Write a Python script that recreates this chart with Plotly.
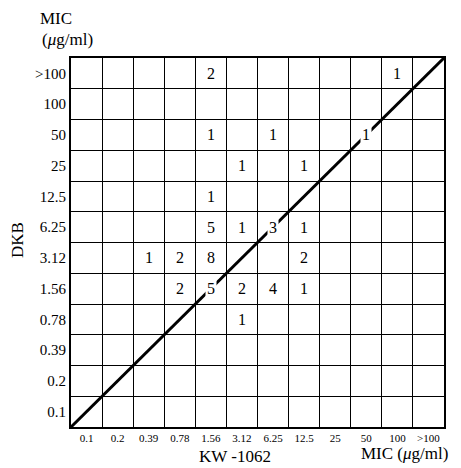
import plotly.graph_objects as go

# MIC categories (same for both axes)
kw_labels = ["0.1", "0.2", "0.39", "0.78", "1.56", "3.12", "6.25", "12.5", "25", "50", "100", ">100"]
dkb_labels = ["0.1", "0.2", "0.39", "0.78", "1.56", "3.12", "6.25", "12.5", "25", "50", "100", ">100"]

# number of strains in each cell: KW-1062 MIC (x), DKB MIC (y), count
cell_kw = ["1.56", "100",
           "1.56", "6.25", "50",
           "3.12", "12.5",
           "1.56",
           "1.56", "3.12", "6.25", "12.5",
           "0.39", "0.78", "1.56", "12.5",
           "0.78", "1.56", "3.12", "6.25", "12.5",
           "3.12"]
cell_dkb = [">100", ">100",
            "50", "50", "50",
            "25", "25",
            "12.5",
            "6.25", "6.25", "6.25", "6.25",
            "3.12", "3.12", "3.12", "3.12",
            "1.56", "1.56", "1.56", "1.56", "1.56",
            "0.78"]
cell_count = [2, 1,
              1, 1, 1,
              1, 1,
              1,
              5, 1, 3, 1,
              1, 2, 8, 2,
              2, 5, 2, 4, 1,
              1]

n = len(kw_labels)
serif = "Liberation Serif, Times New Roman, serif"

fig = go.Figure()
# line of equal MIC
fig.add_trace(go.Scatter(x=[0, n], y=[0, len(dkb_labels)], mode="lines",
                         line=dict(color="black", width=3), hoverinfo="skip",
                         showlegend=False))

annotations = []
for kx, dy, c in zip(cell_kw, cell_dkb, cell_count):
    xi = kw_labels.index(kx) + 0.5
    yi = dkb_labels.index(dy) + 0.5
    annotations.append(dict(x=xi, y=yi, xref="x", yref="y", text=str(c),
                            showarrow=False, bgcolor="white", borderpad=1,
                            font=dict(family=serif, size=16, color="black")))

labels = [
    dict(x=56, y=19, text="MIC"),
    dict(x=67, y=40, text="(<i>μ</i>g/ml)"),
    dict(x=17, y=240, text="DKB", textangle=-90),
    dict(x=235, y=456, text="KW -1062"),
    dict(x=404, y=453, text="MIC (<i>μ</i>g/ml)"),
]
# convert pixel positions for the label annotations into paper coordinates
W, H = 461, 468
L, R, T, B = 71, 17, 58, 41
pw, ph = W - L - R, H - T - B
for a in labels:
    a["x"] = (a["x"] - L) / pw
    a["y"] = 1 - (a["y"] - T) / ph
    a.update(xref="paper", yref="paper", showarrow=False,
             xanchor="center", yanchor="middle",
             font=dict(family=serif, size=17, color="black"))
annotations += labels

axis_common = dict(range=[0, n], showgrid=False, zeroline=False,
                   showline=True, linecolor="black", linewidth=2, mirror=True,
                   ticks="", fixedrange=True,
                   minor=dict(tickvals=list(range(n + 1)), showgrid=True,
                              gridcolor="black", gridwidth=1.4, ticks=""))

fig.update_layout(
    width=W, height=H,
    margin=dict(l=L, r=R, t=T, b=B, pad=0),
    paper_bgcolor="white", plot_bgcolor="white",
    showlegend=False,
    xaxis=dict(**axis_common, tickvals=[i + 0.5 for i in range(n)], ticktext=kw_labels,
               tickfont=dict(family=serif, size=11, color="black")),
    yaxis=dict(**axis_common, tickvals=[i + 0.5 for i in range(len(dkb_labels))],
               ticktext=dkb_labels,
               tickfont=dict(family=serif, size=15, color="black")),
    annotations=annotations,
)

fig.write_html("out.html", config={"displayModeBar": False},
               post_script="document.body.style.margin='0px';")
